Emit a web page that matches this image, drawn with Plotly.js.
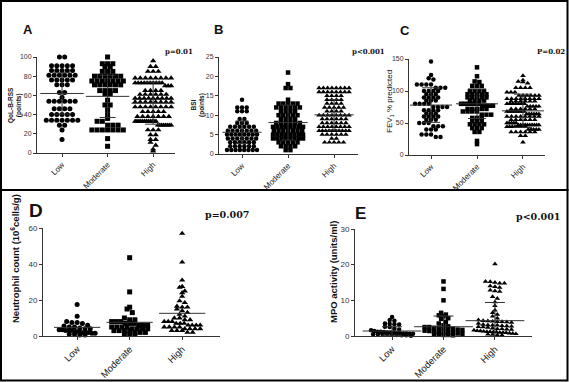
<!DOCTYPE html>
<html>
<head>
<meta charset="utf-8">
<script src="https://cdn.plot.ly/plotly-3.0.1.min.js"></script>
<style>html,body{margin:0;padding:0;background:#fff;}#chart{width:569px;height:382px;}</style>
</head>
<body>
<div id="chart"></div>
<script>
// ---------------- DATA ----------------
const categories = ["Low", "Moderate", "High"];

// A: QoL-B-RSS (points)
const qolLow = [100,100, 91,91,91,91,91, 86,86,86,86,86, 81,81,81,81,81,81, 76,76,76,76,76, 71,71,71, 63,63, 58, 54,54,54,54,54,54, 46,46,46,46, 40,40,40,40,40, 34,34,34,34,34,34,34, 29,29, 24, 14];
const qolModerate = [100, 93,93,93, 90,90, 85,85,85, 80,80,80,80,80,80, 75,75,75,75,75,75,75, 71,71,71,71,71,71, 65,65,65,65, 62,62, 55, 50,50, 45, 40, 36, 33,33, 29,29,29, 24,24,24,24,24,24,24, 15, 7];
const qolHigh = [96, 90,90, 85,85,85, 78,78,78,78,78,78,78,78, 73,73,73,73,73,73,73,73,73,73, 70,70,70, 65,65,65,65, 61,61,61,61,61,61, 57,57,57,57,57,57,57,57,57, 53,53,53,53,53,53,53,53, 48,48,48,48,48,48,48,48, 43,43,43,43,43, 38,38,38,38,38,38,38, 33,33,33,33,33,33,33,33,33,33,33,33, 29,29,29,29,29,29,29,29, 24,24,24, 19,19, 14,14, 11, 8, 4, 2];
const qolMean = [62, 59, 52];
const qolSD = [21.5, 22, 22];

// B: BSI (points)
const bsiLow = [14, 12,12,12, 11,11,11, 9,9, 8,8,8, 7,7,7,7,7,7, 6,6,6,6,6,6,6, 5,5,5,5,5,5,5,5, 4,4,4,4,4,4,4, 3,3,3,3,3,3, 2,2,2,2,2,2, 1,1,1,1,1,1,1,1];
const bsiModerate = [21, 18, 17,17, 14, 13,13,13,13,13, 12,12,12,12,12,12, 11,11,11,11, 10,10,10,10,10, 9,9,9,9, 8,8,8,8,8,8, 7,7,7,7,7,7,7,7, 6,6,6,6,6,6,6, 5,5,5,5,5,5,5,5, 4,4,4,4,4,4,4,4, 3,3,3,3,3, 2,2,2,2, 1,1];
const bsiHigh = [17,17,17,17,17,17,17,17, 16,16,16,16,16,16,16,16, 15,15,15,15, 14,14,14,14, 13,13,13,13, 12,12,12,12,12, 11,11,11,11, 10,10,10,10,10,10,10,10, 9,9,9,9,9,9, 8,8,8,8,8,8, 7,7,7,7,7,7,7,7, 6,6,6,6,6,6,6,6,6,6, 5,5,5,5,5,5, 4,4, 3,3,3,3,3];
const bsiMean = [5.6, 8.1, 10.1];
const bsiSD = [2.9, 4.5, 3.9];

// C: FEV1 % predicted
const fevLow = [146, 125, 120, 118, 110,110,110,110, 105,105,105, 100,100,100,100, 95,95,95, 90,90,90,90, 85,85,85, 80,80,80,80, 75,75,75,75, 70,70,70,70, 65,65,65, 60,60,60,60, 55,55,55, 50,50,50, 45,45,45, 40,40,40, 32,32,32, 28,28];
const fevModerate = [137, 123, 115, 114, 108,108,108, 100,100,100,100, 95,95,95,95,95, 90,90,90,90,90, 85,85,85,85, 80,80,80,80,80,80, 77,77,77,77, 72,72,72,72,72, 68,68,68,68, 63,63,63, 58,58,58, 53,53,53, 48,48,48,48, 42,42,42, 36,36, 22, 17];
const fevHigh = [124, 117, 115, 114, 112, 105,105,105,105, 98,98,98, 93,93,93,93,93,93, 88,88,88,88,88,88,88,88, 84,84,84,84,84,84, 80,80,80,80,80,80,80, 76,76,76,76,76, 72,72,72,72,72,72, 68,68,68,68,68,68,68,68, 64,64,64,64,64,64, 60,60,60,60,60,60,60,60, 55,55,55,55,55,55, 50,50,50,50,50, 47,47,47,47,47,47,47,47,47,47, 44,44,44,44,44,44,44,44, 40,40,40,40,40, 36,36,36,36,36,36, 30,30, 20];
const fevMean = [78, 80, 69];
const fevSD = [27, 23, 26];

// D: Neutrophil count (10^6 cells/g)
const neuLow = [17.5, 11, 8, 7.5, 7.5, 7, 6, 5.5, 5, 5, 4.5, 4, 4, 3.5, 3.5, 3, 3, 3, 2.5, 2.5, 2, 2, 2, 1.5, 1.5, 1, 1, 0.5, 0.5];
const neuModerate = [43.5, 24.5, 16, 15, 13, 10, 9, 9, 8, 8, 8, 7, 7, 7, 6, 6, 6, 5, 5, 5, 5, 4, 4, 4, 4, 3, 3, 3, 3, 2, 2, 2, 1, 1, 1];
const neuHigh = [57, 41, 31, 27.5, 27, 25, 24, 22, 19.5, 18.5, 16.5, 16, 16, 15, 14, 13, 12, 11, 10, 10, 9, 9, 8, 8, 8, 7, 7, 7, 6, 6, 6, 6, 5, 5, 5, 5, 4, 4, 4, 4, 3, 3, 3, 2, 2];
const neuMean = [4.8, 7.6, 12.6];

// E: MPO activity (units/ml)
const mpoLow = [5.3, 4.5, 4.3, 3.5, 3.4, 3.3, 3.2, 2.6, 2.5, 2, 1.8, 1.6, 1.4, 1.2, 1.2, 1.1, 1, 1, 0.9, 0.8, 0.8, 0.7, 0.7, 0.6, 0.6, 0.5, 0.5, 0.4, 0.4, 0.3, 0.3, 0.2, 0.2, 0.1];
const mpoModerate = [15.3, 13.2, 10, 6.5, 6, 5.8, 5.5, 5, 4.8, 4, 3.5, 3, 2.7, 2.5, 2.5, 2.3, 2.2, 2.1, 2, 2, 1.8, 1.7, 1.5, 1.4, 1.2, 1.1, 1, 0.9, 0.8, 0.7, 0.6, 0.5, 0.4, 0.3, 0.3, 0.2];
const mpoHigh = [20.2, 15.3, 15.2, 15, 14.8, 14.8, 14, 13.8, 13.6, 12.8, 12.6, 12.5, 11, 10.5, 9.5, 8.5, 7.2, 6.5, 6, 5.5, 5, 4.5, 4.3, 4.2, 4.1, 4, 4, 3.9, 3.8, 3.5, 3.2, 3.1, 3, 3, 2.9, 2.8, 2.7, 2.6, 2.5, 2.4, 2.2, 2, 2, 1.9, 1.8, 1.6, 1.5, 1.4, 1.3, 1.2, 1.2, 1.1, 1.1, 1, 1, 0.9, 0.8, 0.7, 0.6, 0.5, 0.4, 0.3, 0.2];
const mpoMean = [1.4, 2.6, 4.3];
const mpoSD = [1.2, 3.0, 5.1];

const panelLetters = ["A", "B", "C", "D", "E"];
const pValues = ["p=0.01", "p&lt;0.001", "P=0.02", "p=0.007", "p&lt;0.001"];
const yTitles = ["QoL-B-RSS<br>(points)", "BSI<br>(points)", "FEV<sub>1</sub> % predicted",
                 "Neutrophil count (10<sup>6</sup>cells/g)", "MPO activity (units/ml)"];

// ---------------- LAYOUT (pixel geometry) ----------------
const W = 569, H = 382;
const px = x => x / W;
const py = y => 1 - y / H;

const panels = [
  {series:[qolLow,qolModerate,qolHigh], mean:qolMean, sd:qolSD,
   xpx:[37,175], ypx:[153,57], xr:[-0.55,2.48], yr:[0,100], dtick:20,
   ms:5, meanW:31, cap:8, maxHalf:18, xfs:8, yfs:7},
  {series:[bsiLow,bsiModerate,bsiHigh], mean:bsiMean, sd:bsiSD,
   xpx:[219,358], ypx:[154,57], xr:[-0.5,2.52], yr:[0,25], dtick:5,
   ms:4.5, meanW:28, cap:6.5, maxHalf:15, xfs:8, yfs:7},
  {series:[fevLow,fevModerate,fevHigh], mean:fevMean, sd:fevSD,
   xpx:[409,545], ypx:[155,59], xr:[-0.48,2.48], yr:[0,150], dtick:50,
   ms:4.5, meanW:30, cap:9, maxHalf:16, xfs:8, yfs:7},
  {series:[neuLow,neuModerate,neuHigh], mean:neuMean, sd:null,
   xpx:[43,220], ypx:[336,228], xr:[-0.65,2.72], yr:[0,60], dtick:20,
   ms:5, meanW:33, cap:0, maxHalf:18, xfs:9.5, yfs:8},
  {series:[mpoLow,mpoModerate,mpoHigh], mean:mpoMean, sd:mpoSD,
   xpx:[355,532], ypx:[336,229], xr:[-0.72,2.72], yr:[0,30], dtick:10,
   ms:4.5, meanW:42, cap:10, maxHalf:21, xfs:9.5, yfs:8}
];

const symbols = ["circle", "square", "triangle-up"];

// Prism-like scatter dot layout: points in the same pixel row are spread horizontally
function swarm(values, center, pxPerX, pxPerY, size, maxHalf) {
  const bin = size * 0.85;
  const bins = {};
  values.forEach((v, i) => {
    const b = Math.round(v * pxPerY / bin);
    (bins[b] = bins[b] || []).push(i);
  });
  const xs = new Array(values.length);
  Object.keys(bins).forEach(k => {
    const idx = bins[k];
    const n = idx.length;
    let step = size * 1.05;
    if (n > 1 && (n - 1) * step / 2 > maxHalf) step = 2 * maxHalf / (n - 1);
    idx.forEach((id, j) => { xs[id] = center + (j - (n - 1) / 2) * step / pxPerX; });
  });
  return xs;
}

const traces = [];
const layout = {
  width: W, height: H,
  margin: {l:0, r:0, t:0, b:0},
  paper_bgcolor: "#ffffff", plot_bgcolor: "rgba(0,0,0,0)",
  showlegend: false,
  font: {family: "Liberation Sans, Arial, sans-serif", color: "#222"},
  shapes: [], annotations: []
};

panels.forEach((p, k) => {
  const s = k === 0 ? "" : String(k + 1);
  const xa = "x" + s, ya = "y" + s;
  const pxPerX = (p.xpx[1] - p.xpx[0]) / (p.xr[1] - p.xr[0]);
  const pxPerY = (p.ypx[0] - p.ypx[1]) / (p.yr[1] - p.yr[0]);

  p.series.forEach((vals, g) => {
    traces.push({
      type: "scatter", mode: "markers", xaxis: xa, yaxis: ya,
      x: swarm(vals, g, pxPerX, pxPerY, p.ms, p.maxHalf), y: vals,
      marker: {symbol: symbols[g], size: g === 2 ? p.ms * 1.1 : p.ms, color: "#000", line: {width: 0}},
      cliponaxis: false, hoverinfo: "skip"
    });
  });

  const meanTrace = {
    type: "scatter", mode: "markers", xaxis: xa, yaxis: ya,
    x: [0, 1, 2], y: p.mean,
    marker: {symbol: "line-ew", size: p.meanW, color: "#333", line: {width: 1, color: "#333"}},
    cliponaxis: true, hoverinfo: "skip"
  };
  if (p.sd) {
    meanTrace.error_y = {type: "data", array: p.sd, visible: true, color: "#333", thickness: 1, width: p.cap};
  }
  traces.push(meanTrace);

  layout["xaxis" + s] = {
    domain: [px(p.xpx[0]), px(p.xpx[1])], range: p.xr, anchor: ya,
    tickmode: "array", tickvals: [0, 1, 2], ticktext: categories, tickangle: -45,
    showline: true, linecolor: "#333", linewidth: 1, ticks: "outside", ticklen: 3, tickcolor: "#333",
    showgrid: false, zeroline: false, tickfont: {size: p.xfs, color: "#222"}, fixedrange: true
  };
  layout["yaxis" + s] = {
    domain: [py(p.ypx[0]), py(p.ypx[1])], range: p.yr, anchor: xa,
    dtick: p.dtick, tick0: 0,
    showline: true, linecolor: "#333", linewidth: 1, ticks: "outside", ticklen: 3, tickcolor: "#333",
    showgrid: false, zeroline: false, tickfont: {size: p.yfs, color: "#333"}, fixedrange: true
  };
});

// frames
layout.shapes.push({type:"rect", xref:"paper", yref:"paper", x0:px(1), x1:px(567.5), y0:py(1), y1:py(190), line:{color:"#000", width:2}});
layout.shapes.push({type:"rect", xref:"paper", yref:"paper", x0:px(1), x1:px(567.5), y0:py(190), y1:py(380.5), line:{color:"#000", width:2}});

function ann(text, x, y, size, family, angle) {
  layout.annotations.push({
    text: text, x: px(x), y: py(y), xref: "paper", yref: "paper",
    xanchor: "center", yanchor: "middle", showarrow: false, textangle: angle || 0,
    font: {size: size, family: family, color: "#111"}
  });
}

const letterPos = [[28, 29, 13], [218.5, 29, 13], [405, 30, 13], [36, 210, 19], [360, 213, 17]];
letterPos.forEach((lp, i) => ann("<b>" + panelLetters[i] + "</b>", lp[0], lp[1], lp[2], "Liberation Sans, Arial, sans-serif"));

const pPos = [[179, 51.5, 7], [368.5, 51.5, 7], [550.5, 51.5, 7], [226.5, 214, 9.5], [537.5, 216.5, 9.5]];
pPos.forEach((pp, i) => ann("<b>" + pValues[i] + "</b>", pp[0], pp[1], pp[2], "DejaVu Serif, serif"));

ann("<b>" + yTitles[0] + "</b>", 15, 105, 6.5, "Liberation Sans, Arial, sans-serif", -90);
ann("<b>" + yTitles[1] + "</b>", 198, 105, 6.5, "Liberation Sans, Arial, sans-serif", -90);
ann(yTitles[2], 390, 102, 8, "Liberation Sans, Arial, sans-serif", -90);
ann("<b>" + yTitles[3] + "</b>", 15, 259, 9.5, "Liberation Sans, Arial, sans-serif", -90);
ann("<b>" + yTitles[4] + "</b>", 333, 272, 9.5, "Liberation Sans, Arial, sans-serif", -90);

Plotly.newPlot("chart", traces, layout, {staticPlot: true, displayModeBar: false});
</script>
</body>
</html>
